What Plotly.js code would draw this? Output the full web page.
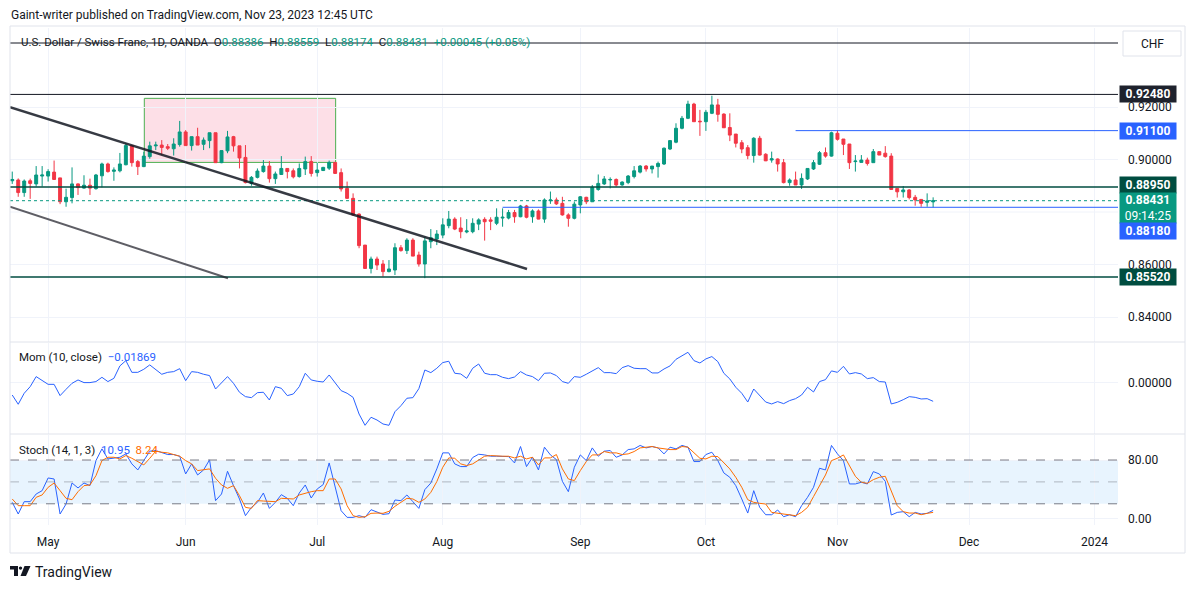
<!DOCTYPE html>
<html>
<head>
<meta charset="utf-8">
<script src="https://cdn.plot.ly/plotly-3.0.1.min.js"></script>
<style>
  html, body { margin: 0; padding: 0; background: #ffffff; }
  #chart { width: 1195px; height: 589px; }
</style>
</head>
<body>
<div id="chart"></div>
<script>
// USD/CHF daily (first bar = 2023-04-21)
let opens = [.8919,.8922,.8874,.8919,.8907,.8937,.8937,.8952,.8930,.8839,
.8855,.8907,.8891,.8902,.8889,.8938,.8983,.8955,.8957,.8980,
.9053,.8992,.8973,.9011,.9052,.9055,.9049,.9041,.9057,.9105,
.9053,.9087,.9058,.9072,.9102,.8988,.9033,.9087,.9052,.9008,
.8909,.8932,.8954,.8975,.8927,.8943,.8966,.8957,.8935,.8964,
.8992,.8950,.8958,.8967,.8989,.8950,.8890,.8852,.8792,.8674,
.8585,.8621,.8602,.8573,.8579,.8664,.8653,.8693,.8636,.8602,
.8687,.8697,.8712,.8748,.8773,.8739,.8724,.8725,.8754,.8772,
.8770,.8757,.8777,.8777,.8798,.8782,.8823,.8782,.8804,.8773,
.8843,.8846,.8833,.8789,.8776,.8827,.8856,.8839,.8886,.8907,
.8922,.8924,.8903,.8912,.8935,.8952,.8975,.8964,.8973,.8983,
.9040,.9066,.9119,.9157,.9211,.9146,.9144,.9176,.9208,.9173,
.9122,.9097,.9064,.9045,.9015,.9081,.9020,.8998,.9002,.8988,
.8912,.8922,.8903,.8926,.8964,.8982,.9026,.9013,.9100,.9078,
.9059,.8992,.8989,.8998,.8988,.9030,.9024,.9013,.8890,.8877,
.8884,.8856,.8848,.8837,.88386];
let highs = [.8954,.8928,.8924,.8927,.8975,.8975,.8963,.8996,.8930,.8889,
.8970,.8909,.8940,.8927,.8945,.8988,.8988,.8970,.9025,.9062,
.9055,.8998,.9030,.9068,.9068,.9074,.9059,.9081,.9147,.9112,
.9087,.9121,.9084,.9102,.9102,.9034,.9109,.9090,.9052,.9055,
.8937,.8966,.8998,.8994,.8954,.9013,.8966,.8966,.8985,.9011,
.9013,.8988,.8972,.8996,.8989,.8966,.8916,.8871,.8795,.8674,
.8630,.8630,.8617,.8617,.8681,.8674,.8700,.8700,.8649,.8706,
.8735,.8731,.8776,.8804,.8780,.8780,.8773,.8776,.8776,.8780,
.8780,.8814,.8814,.8808,.8808,.8827,.8827,.8810,.8810,.8852,
.8878,.8855,.8858,.8795,.8840,.8861,.8858,.8903,.8943,.8937,
.8932,.8928,.8917,.8941,.8975,.8979,.8979,.8975,.8992,.9046,
.9074,.9138,.9166,.9224,.9216,.9189,.9189,.9243,.9231,.9176,
.9176,.9097,.9074,.9055,.9085,.9090,.9024,.9030,.9004,.9002,
.8928,.8954,.8947,.8966,.8998,.9032,.9046,.9106,.9112,.9078,
.9059,.9017,.9017,.9007,.9040,.9030,.9051,.9024,.8890,.8899,
.8887,.8865,.8848,.8871,.88559];
let lows = [.8907,.8858,.8858,.8850,.8897,.8897,.8916,.8922,.8830,.8820,
.8833,.8865,.8889,.8865,.8885,.8894,.8950,.8919,.8951,.8978,
.8973,.8941,.8971,.9003,.9036,.9017,.9036,.9015,.9049,.9053,
.9034,.9055,.9036,.9043,.8988,.8986,.9024,.9030,.8966,.8909,
.8900,.8928,.8950,.8912,.8907,.8941,.8928,.8928,.8931,.8941,
.8935,.8935,.8956,.8960,.8945,.8878,.8850,.8785,.8662,.8583,
.8566,.8579,.8554,.8570,.8560,.8649,.8640,.8632,.8592,.8548,
.8662,.8674,.8700,.8738,.8731,.8700,.8719,.8719,.8731,.8691,
.8731,.8750,.8744,.8772,.8759,.8780,.8776,.8759,.8772,.8759,
.8831,.8827,.8786,.8744,.8772,.8795,.8830,.8839,.8881,.8903,
.8890,.8897,.8900,.8906,.8928,.8947,.8954,.8947,.8931,.8979,
.9036,.9062,.9115,.9154,.9144,.9090,.9109,.9173,.9144,.9121,
.9070,.9046,.9024,.9001,.8988,.9015,.8994,.8988,.8954,.8909,
.8900,.8903,.8888,.8922,.8960,.8979,.9007,.9011,.9072,.9017,
.8964,.8954,.8989,.8977,.8988,.9017,.9007,.8884,.8855,.8855,
.8848,.8824,.8820,.8820,.88174];
let closes = [.8924,.8874,.8918,.8909,.8941,.8941,.8954,.8924,.8839,.8856,
.8907,.8893,.8902,.8891,.8941,.8983,.8954,.8960,.8983,.9053,
.8988,.8973,.9013,.9052,.9055,.9046,.9043,.9059,.9105,.9053,
.9087,.9055,.9074,.9102,.8988,.9034,.9086,.9052,.9006,.8912,
.8932,.8956,.8975,.8927,.8945,.8966,.8954,.8934,.8966,.8992,
.8947,.8960,.8970,.8989,.8947,.8888,.8852,.8789,.8672,.8585,
.8621,.8598,.8573,.8583,.8664,.8653,.8693,.8632,.8602,.8690,
.8702,.8716,.8751,.8773,.8735,.8725,.8728,.8757,.8770,.8763,
.8765,.8780,.8780,.8798,.8782,.8823,.8780,.8804,.8773,.8846,
.8846,.8831,.8789,.8776,.8830,.8858,.8839,.8894,.8909,.8926,
.8924,.8903,.8914,.8937,.8957,.8975,.8964,.8975,.8985,.9043,
.9072,.9119,.9157,.9211,.9144,.9144,.9180,.9208,.9172,.9121,
.9093,.9062,.9040,.9015,.9081,.9017,.8995,.9003,.8983,.8912,
.8922,.8903,.8928,.8966,.8988,.9026,.9013,.9102,.9077,.9058,
.8988,.8994,.8998,.8985,.9030,.9017,.9011,.8886,.8877,.8884,
.8855,.8846,.8833,.8842,.88431];

// Mom (10, close)
let momValues = [-0.0125,-0.0216,-0.0108,-0.0043,0.0056,0.0016,-0.0020,-0.0020,-0.0131,-0.0069,
-0.0010,0.0023,-0.0003,-0.0003,0.0007,0.0049,0.0007,0.0039,0.0161,0.0213,
0.0098,0.0098,0.0128,0.0171,0.0121,0.0079,0.0098,0.0105,0.0134,0.0016,
0.0105,0.0098,0.0079,0.0066,-0.0066,-0.0003,0.0056,-0.0010,-0.0098,-0.0141,
-0.0151,-0.0102,-0.0098,-0.0174,-0.0043,-0.0059,-0.0131,-0.0115,-0.0043,0.0089,
0.0023,0.0010,0.0003,0.0072,0.0000,-0.0082,-0.0108,-0.0148,-0.0312,-0.0423,
-0.0344,-0.0371,-0.0410,-0.0423,-0.0289,-0.0230,-0.0157,-0.0151,-0.0062,0.0121,
0.0095,0.0138,0.0194,0.0207,0.0089,0.0082,0.0039,0.0138,0.0180,0.0089,
0.0075,0.0075,0.0049,0.0036,0.0052,0.0105,0.0072,0.0056,0.0016,0.0089,
0.0092,0.0066,0.0007,-0.0010,0.0056,0.0049,0.0079,0.0108,0.0144,0.0095,
0.0095,0.0085,0.0144,0.0164,0.0138,0.0134,0.0134,0.0092,0.0092,0.0131,
0.0161,0.0226,0.0262,0.0295,0.0213,0.0190,0.0230,0.0253,0.0203,0.0089,
0.0033,-0.0049,-0.0108,-0.0194,-0.0066,-0.0134,-0.0194,-0.0213,-0.0190,-0.0210,
-0.0180,-0.0161,-0.0125,-0.0049,-0.0095,0.0007,0.0026,0.0112,0.0098,0.0157,
0.0082,0.0095,0.0082,0.0036,0.0046,0.0007,0.0003,-0.0213,-0.0197,-0.0171,
-0.0141,-0.0148,-0.0164,-0.0161,-0.01869];

// Stoch (14, 1, 3)
let stochK = [22.0,6.0,22.9,22.9,33.4,38.0,55.4,54.0,6.0,19.7,
48.5,41.7,48.5,44.9,79.2,95.3,81.5,82.9,83.8,88.4,
74.7,66.4,80.2,92.1,93.0,90.7,87.5,87.5,85.2,60.9,
74.7,59.5,66.4,80.2,24.3,33.4,64.6,44.9,26.6,3.7,
15.1,22.0,34.8,13.7,22.0,32.5,27.5,17.4,34.8,45.8,
27.9,40.3,46.3,76.0,44.9,10.5,1.4,1.4,3.7,1.4,
11.9,8.2,5.5,6.4,25.2,24.3,32.1,22.9,13.7,39.4,
48.5,67.8,89.8,89.8,74.7,71.0,71.0,83.4,87.9,87.0,
85.2,85.2,85.2,84.7,76.0,98.5,71.0,83.8,66.4,97.6,
87.0,80.6,50.8,36.6,70.1,87.0,79.2,96.6,85.2,92.1,
93.0,83.8,87.0,94.3,95.3,100,96.6,98.5,96.6,88.4,
97.6,95.3,100,97.6,77.9,77.9,87.5,90.7,79.2,62.3,
56.3,44.9,26.6,7.3,38.0,15.1,5.0,5.0,11.5,2.3,
5.0,2.3,17.4,28.9,42.6,68.7,66.4,100,88.4,79.2,
47.2,47.2,49.5,47.2,64.1,60.9,50.8,4.6,8.2,9.2,
2.3,8.2,6.0,6.9,10.95];
let stochD = [26.6,17.4,17.4,17.4,28.9,32.1,42.6,48.5,38.0,27.5,
25.6,36.6,44.9,45.8,58.6,79.2,83.8,83.8,81.5,86.1,
82.4,77.9,73.3,82.4,92.1,90.7,89.8,87.5,85.2,79.2,
74.7,65.5,66.4,67.8,55.0,45.8,41.2,44.9,31.1,15.1,
13.7,24.3,23.8,23.8,22.9,27.5,26.6,26.6,32.1,34.8,
36.6,38.0,38.0,54.0,54.0,40.3,17.4,3.7,1.4,2.3,
6.9,7.3,6.9,9.6,16.5,22.0,27.5,26.6,22.0,26.6,
35.7,50.4,70.1,82.9,82.4,74.7,72.4,74.7,79.7,85.2,
86.1,85.2,85.2,85.2,82.9,85.2,81.5,83.8,73.3,82.9,
82.9,87.5,67.8,54.0,51.8,65.5,77.9,87.0,87.0,91.6,
89.8,89.8,87.5,88.4,91.6,96.6,97.6,98.5,96.6,95.3,
94.3,94.3,98.5,97.6,89.8,82.4,81.5,85.2,84.7,76.9,
67.8,56.3,42.6,25.6,22.0,20.6,19.7,8.2,7.3,6.0,
5.0,3.7,8.2,15.1,29.8,44.9,59.5,79.2,82.4,87.0,
71.4,57.7,49.5,48.1,53.1,56.3,57.7,38.0,17.4,9.2,
7.3,7.3,5.0,6.9,8.24];

let monthTicks = ['2023-05-01','2023-06-01','2023-07-03','2023-08-01','2023-09-01','2023-10-02','2023-11-01','2023-12-01','2024-01-01'];
let monthLabels = ['May','Jun','Jul','Aug','Sep','Oct','Nov','Dec','2024'];
let priceTicks = [0.84, 0.86, 0.90, 0.92];   // 0.88000 sits under the last-price box

// weekday calendar for the bars (forex trades every weekday)
function tradingDays(start, count) {
    let out = [];
    let d = new Date(start + 'T00:00:00Z');
    while (out.length < count) {
        let wd = d.getUTCDay();
        if (wd !== 0 && wd !== 6) out.push(d.toISOString().slice(0, 10));
        d.setUTCDate(d.getUTCDate() + 1);
    }
    return out;
}
let dates = tradingDays('2023-04-21', closes.length);

let UP = '#089981', DOWN = '#f23645', BLUE = '#2962ff', ORANGE = '#ff6d00';
let DARKGREEN = '#004d40', INK = '#131722', GRID = '#f0f3fa', BORDER = '#e0e3eb';
let FONT = 'Roboto, "Open Sans", sans-serif';

// pixel -> paper helpers for the frame and the logo (plot area 10..1118 x 28..525)
function px(x) { return (x - 10) / 1108; }
function py(y) { return (525 - y) / 497; }

var data = [
    {
        type: 'candlestick',
        x: dates, open: opens, high: highs, low: lows, close: closes,
        xaxis: 'x', yaxis: 'y',
        increasing: { line: { color: UP, width: 1 }, fillcolor: UP },
        decreasing: { line: { color: DOWN, width: 1 }, fillcolor: DOWN },
        whiskerwidth: 0,
        hoverinfo: 'skip'
    },
    {
        type: 'scatter', mode: 'lines',
        x: dates, y: momValues, xaxis: 'x', yaxis: 'y2',
        line: { color: BLUE, width: 1 },
        hoverinfo: 'skip'
    },
    {
        type: 'scatter', mode: 'lines',
        x: dates, y: stochK, xaxis: 'x', yaxis: 'y3',
        line: { color: BLUE, width: 1 },
        hoverinfo: 'skip'
    },
    {
        type: 'scatter', mode: 'lines',
        x: dates, y: stochD, xaxis: 'x', yaxis: 'y3',
        line: { color: ORANGE, width: 1 },
        hoverinfo: 'skip'
    }
];

function hline(y, color, width, dash, x0, yref, layer) {
    let s = {
        type: 'line', xref: x0 ? 'x' : 'paper', yref: yref || 'y',
        x0: x0 || 0, x1: x0 ? '2024-01-05' : 1, y0: y, y1: y,
        line: { color: color, width: width, dash: dash || 'solid' }
    };
    if (layer) s.layer = layer;
    return s;
}

function priceBox(y, text, bg, shift, height) {
    return {
        xref: 'paper', yref: 'y', x: 1, y: y, xanchor: 'left', yanchor: 'middle',
        xshift: 1, yshift: shift || 0,
        text: text, showarrow: false,
        bgcolor: bg, borderpad: 2, width: 52, height: height || 12, align: 'center',
        font: { family: FONT, size: 12, color: '#ffffff', weight: 'bold' }
    };
}

var shapes = [
    // stoch band and levels
    { type: 'rect', xref: 'paper', yref: 'y3', x0: 0, x1: 1, y0: 20, y1: 80,
      fillcolor: 'rgba(33,150,243,0.1)', line: { width: 0 }, layer: 'below' },
    hline(80, '#787b86', 1, 'dash', null, 'y3'),
    hline(50, 'rgba(120,123,134,0.5)', 1, 'dash', null, 'y3'),
    hline(20, '#787b86', 1, 'dash', null, 'y3'),
    // grid line at 0.88 (its label is hidden behind the last-price box)
    hline(0.88, GRID, 1, 'solid', null, 'y', 'below'),
    // supply box
    { type: 'rect', xref: 'x', yref: 'y', x0: '2023-05-23 02:00', x1: '2023-07-06 02:00',
      y0: 0.8989, y1: 0.9233, fillcolor: 'rgba(242,54,108,0.16)',
      line: { color: '#4caf50', width: 1 }, layer: 'below' },
    // horizontal levels
    hline(0.94438, INK, 1),
    hline(0.9248, INK, 1),
    hline(0.8895, DARKGREEN, 1.5),
    hline(0.8552, DARKGREEN, 1.5),
    hline(0.911, BLUE, 1, 'solid', '2023-10-23'),
    hline(0.8818, BLUE, 1, 'solid', '2023-08-15'),
    hline(0.88431, UP, 1, 'dot'),
    // trend lines
    { type: 'line', xref: 'x', yref: 'y', x0: '2023-04-20 15:00', y0: 0.9199,
      x1: '2023-08-21 02:00', y1: 0.85829, line: { color: 'rgba(19,23,34,0.85)', width: 2.5 } },
    { type: 'line', xref: 'x', yref: 'y', x0: '2023-04-20 15:00', y0: 0.88202,
      x1: '2023-06-12 02:00', y1: 0.85474, line: { color: 'rgba(40,40,50,0.75)', width: 2 } },
    // pane separators and frame
    { type: 'line', xref: 'paper', yref: 'paper', x0: 0, x1: px(1185), y0: py(342), y1: py(342),
      line: { color: BORDER, width: 1 } },
    { type: 'line', xref: 'paper', yref: 'paper', x0: 0, x1: px(1185), y0: py(434), y1: py(434),
      line: { color: BORDER, width: 1 } },
    { type: 'rect', xref: 'paper', yref: 'paper', x0: 0, x1: px(1185), y0: py(553), y1: py(26),
      line: { color: BORDER, width: 1 } },
    // CHF box
    { type: 'rect', xref: 'paper', yref: 'paper', x0: px(1123), x1: px(1181), y0: py(56), y1: py(31),
      fillcolor: '#ffffff', line: { color: BORDER, width: 1 } },
    // TradingView logo
    { type: 'path', xref: 'paper', yref: 'paper', fillcolor: INK, line: { width: 0 },
      path: 'M ' + px(10) + ' ' + py(566) + ' L ' + px(18) + ' ' + py(566) + ' L ' + px(18) + ' ' + py(576) +
            ' L ' + px(14) + ' ' + py(576) + ' L ' + px(14) + ' ' + py(569.5) + ' L ' + px(10) + ' ' + py(569.5) + ' Z' },
    { type: 'circle', xref: 'paper', yref: 'paper', fillcolor: INK, line: { width: 0 },
      x0: px(18.8), x1: px(22.2), y0: py(569.8), y1: py(566.4) },
    { type: 'path', xref: 'paper', yref: 'paper', fillcolor: INK, line: { width: 0 },
      path: 'M ' + px(24.5) + ' ' + py(566) + ' L ' + px(30.5) + ' ' + py(566) + ' L ' + px(26) + ' ' + py(576) +
            ' L ' + px(20.5) + ' ' + py(576) + ' Z' }
];

function g(t) { return '<span style="color:' + UP + '">' + t + '</span>'; }
var sp = '\u00a0\u00a0';

var annotations = [
    { xref: 'paper', yref: 'paper', x: px(9), y: py(15), xanchor: 'left', yanchor: 'middle',
      showarrow: false, text: 'Gaint-writer published on TradingView.com, Nov 23, 2023 12:45 UTC',
      font: { family: FONT, size: 12, color: INK } },
    { xref: 'paper', yref: 'paper', x: px(19), y: py(42), xanchor: 'left', yanchor: 'middle',
      showarrow: false,
      text: 'U.S. Dollar / Swiss Franc, 1D, OANDA' + sp + 'O' + g('0.88386') + sp + 'H' + g('0.88559') +
            sp + 'L' + g('0.88174') + sp + 'C' + g('0.88431') + sp + g('+0.00045 (+0.05%)'),
      font: { family: FONT, size: 11.5, color: INK } },
    { xref: 'paper', yref: 'paper', x: px(17), y: py(357), xanchor: 'left', yanchor: 'middle',
      showarrow: false, text: 'Mom (10, close)' + sp + '<span style="color:' + BLUE + '">\u22120.01869</span>',
      font: { family: FONT, size: 11.5, color: INK } },
    { xref: 'paper', yref: 'paper', x: px(17), y: py(450), xanchor: 'left', yanchor: 'middle',
      showarrow: false,
      text: 'Stoch (14, 1, 3)' + sp + '<span style="color:' + BLUE + '">10.95</span>' + sp +
            '<span style="color:' + ORANGE + '">8.24</span>',
      font: { family: FONT, size: 11.5, color: INK } },
    { xref: 'paper', yref: 'paper', x: px(1152), y: py(44), xanchor: 'center', yanchor: 'middle',
      showarrow: false, text: 'CHF', font: { family: FONT, size: 12, color: INK } },
    { xref: 'paper', yref: 'paper', x: px(33), y: py(572), xanchor: 'left', yanchor: 'middle',
      showarrow: false, text: 'TradingView', font: { family: FONT, size: 14, color: INK } },
    priceBox(0.9248, '0.92480', '#1e222d'),
    priceBox(0.911, '0.91100', BLUE),
    priceBox(0.8895, '0.88950', DARKGREEN, 2),
    priceBox(0.88431, '0.88431<br><span style="font-weight:normal">09:14:25</span>', UP, -7, 26),
    priceBox(0.8818, '0.88180', BLUE, -24),
    priceBox(0.8552, '0.85520', DARKGREEN)
];

var axisFont = { family: FONT, size: 12, color: INK };

var layout = {
    width: 1195, height: 589,
    margin: { l: 10, r: 77, t: 28, b: 64 },
    paper_bgcolor: '#ffffff', plot_bgcolor: '#ffffff',
    showlegend: false, hovermode: false, dragmode: false,
    xaxis: {
        type: 'date', anchor: 'y3', domain: [0, 1],
        range: ['2023-04-20 15:00', '2024-01-04 22:00'],
        rangebreaks: [{ bounds: ['sat', 'mon'] }],
        rangeslider: { visible: false },
        tickvals: monthTicks, ticktext: monthLabels,
        showgrid: true, gridcolor: GRID, gridwidth: 1,
        ticks: '', showline: false, zeroline: false,
        ticklabelstandoff: 8,
        tickfont: axisFont
    },
    yaxis: {
        domain: [py(342), 1], anchor: 'x', side: 'right',
        range: [0.83048, 0.9501],
        tickvals: priceTicks, tickformat: '.5f',
        showgrid: true, gridcolor: GRID, zeroline: false, ticks: '',
        ticklabelstandoff: 9, tickfont: axisFont
    },
    yaxis2: {
        domain: [py(434), py(343)], anchor: 'x', side: 'right',
        range: [-0.05084, 0.03864],
        tickvals: [0], ticktext: ['0.00000'],
        showgrid: true, gridcolor: GRID, zeroline: false, ticks: '',
        ticklabelstandoff: 9, tickfont: axisFont
    },
    yaxis3: {
        domain: [0, py(435)], anchor: 'x', side: 'right',
        range: [-9.08, 114.3],
        tickvals: [0, 80], tickformat: '.2f',
        showgrid: true, gridcolor: GRID, zeroline: false, ticks: '',
        ticklabelstandoff: 9, tickfont: axisFont
    },
    shapes: shapes,
    annotations: annotations
};

Plotly.newPlot('chart', data, layout, { staticPlot: true, displayModeBar: false });
</script>
</body>
</html>
